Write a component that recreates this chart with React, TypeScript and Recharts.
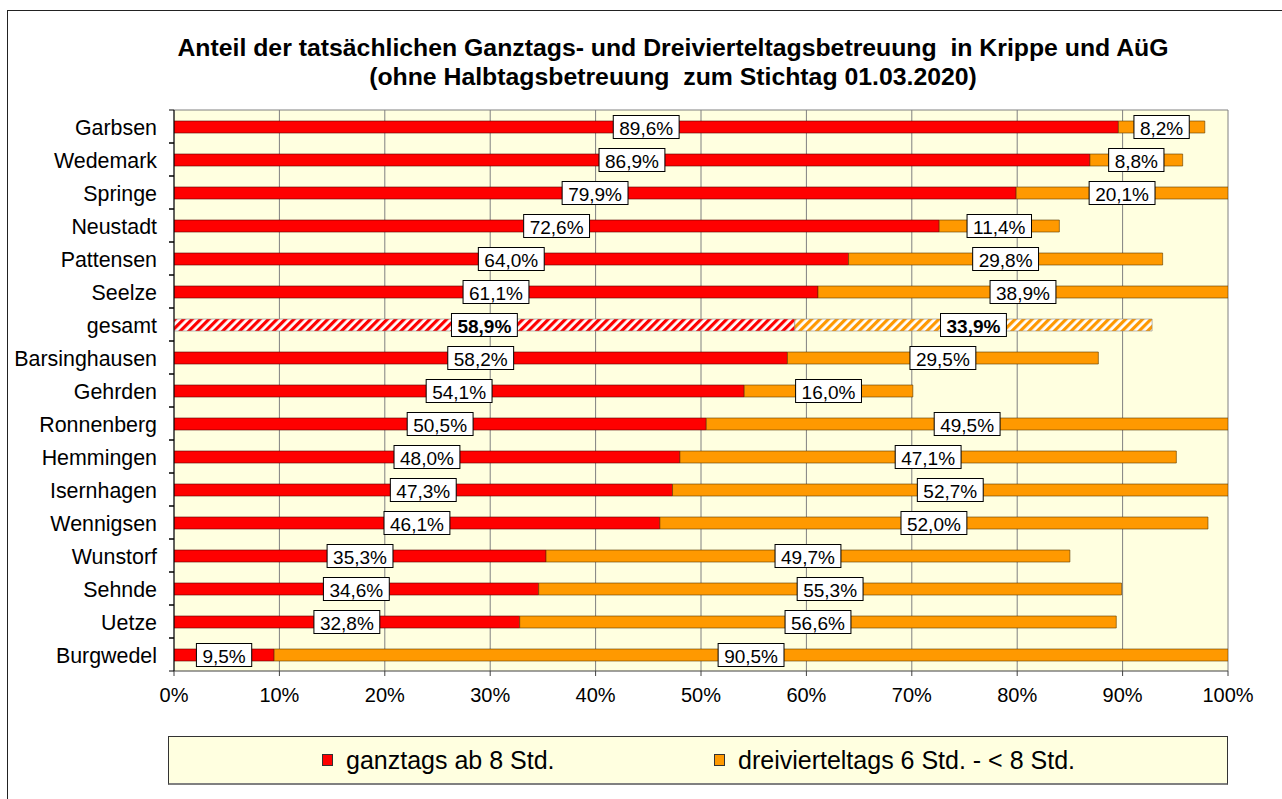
import React from 'react';
import { BarChart, Bar, XAxis, YAxis, CartesianGrid, LabelList, Cell } from 'recharts';

const categories = [
  'Garbsen', 'Wedemark', 'Springe', 'Neustadt', 'Pattensen', 'Seelze', 'gesamt',
  'Barsinghausen', 'Gehrden', 'Ronnenberg', 'Hemmingen', 'Isernhagen', 'Wennigsen',
  'Wunstorf', 'Sehnde', 'Uetze', 'Burgwedel',
];
const ganztags = [89.6, 86.9, 79.9, 72.6, 64.0, 61.1, 58.9, 58.2, 54.1, 50.5, 48.0, 47.3, 46.1, 35.3, 34.6, 32.8, 9.5];
const dreiviertel = [8.2, 8.8, 20.1, 11.4, 29.8, 38.9, 33.9, 29.5, 16.0, 49.5, 47.1, 52.7, 52.0, 49.7, 55.3, 56.6, 90.5];
const xTicks = [0, 10, 20, 30, 40, 50, 60, 70, 80, 90, 100];
const seriesNames = ['ganztags ab 8 Std.', 'dreivierteltags 6 Std. - < 8 Std.'];
const titleLines = [
  'Anteil der tatsächlichen Ganztags- und Dreivierteltagsbetreuung  in Krippe und AüG',
  '(ohne Halbtagsbetreuung  zum Stichtag 01.03.2020)',
];
const highlightCategory = 'gesamt';

const data = categories.map((name, i) => ({ name, ganztags: ganztags[i], dreiviertel: dreiviertel[i] }));

const FONT = '"Liberation Sans", Arial, Helvetica, sans-serif';
const RED = '#FF0000';
const ORANGE = '#FF9900';
const BG = '#FFFFE0';
const TICK_SIZE = 5;
const TICK_MARGIN = 12;

const fmt = (v: number) => v.toFixed(1).replace('.', ',') + '%';

let ctx: CanvasRenderingContext2D | null = null;
const measure = (text: string, size: number, bold: boolean) => {
  try {
    if (!ctx) ctx = document.createElement('canvas').getContext('2d');
    if (ctx) {
      ctx.font = `${bold ? 'bold ' : ''}${size}px ${FONT}`;
      return ctx.measureText(text).width;
    }
  } catch (e) {
    /* ignore */
  }
  return text.length * size * 0.55;
};

const makeLabel = (seriesKey: 'ganztags' | 'dreiviertel') => (props: any) => {
  const vb = props.viewBox && props.viewBox.width !== undefined ? props.viewBox : props;
  const x = Number(vb.x ?? props.x);
  const y = Number(vb.y ?? props.y);
  const w = Number(vb.width ?? props.width);
  const h = Number(vb.height ?? props.height);
  const idx = props.index;
  let value = props.value;
  if (Array.isArray(value)) value = value[1] - value[0];
  if (value === undefined && idx !== undefined) value = data[idx][seriesKey];
  const bold = idx !== undefined && categories[idx] === highlightCategory;
  const text = fmt(Number(value));
  const fs = 19;
  const tw = measure(text, fs, bold);
  const cx = x + w / 2;
  const cy = y + h / 2;
  const bw = tw + 12;
  const bh = 23;
  return (
    <g>
      <rect x={cx - bw / 2} y={cy - bh / 2} width={bw} height={bh} fill="#fff" stroke="#000" strokeWidth={1} />
      <text
        x={cx}
        y={cy + 1}
        textAnchor="middle"
        dominantBaseline="central"
        fontSize={fs}
        fontFamily={FONT}
        fontWeight={bold ? 'bold' : 'normal'}
        fill="#000"
      >
        {text}
      </text>
    </g>
  );
};

const YTick = (props: any) => {
  const { x, y, payload } = props;
  const axisX = x + TICK_SIZE + TICK_MARGIN;
  const off = payload && payload.offset ? payload.offset : 16.5;
  return (
    <g>
      <line x1={axisX - 5} x2={axisX} y1={y - off} y2={y - off} stroke="#000" strokeWidth={1} />
      <line x1={axisX - 5} x2={axisX} y1={y + off} y2={y + off} stroke="#000" strokeWidth={1} />
      <text x={x} y={y + 1} textAnchor="end" dominantBaseline="central" fontSize={21.4} fontFamily={FONT} fill="#000">
        {payload.value}
      </text>
    </g>
  );
};

export default function App() {
  return (
    <div style={{ position: 'absolute', left: 0, top: 0, width: 1282, height: 799, overflow: 'hidden', fontFamily: FONT, background: '#fff' }}>
      <svg width={0} height={0} style={{ position: 'absolute' }}>
        <defs>
          <pattern id="hatchRed" patternUnits="userSpaceOnUse" width={6} height={6} patternTransform="rotate(45)">
            <rect x={0} y={0} width={6} height={6} fill="#fff" />
            <rect x={0} y={0} width={3.2} height={6} fill={RED} />
          </pattern>
          <pattern id="hatchOrange" patternUnits="userSpaceOnUse" width={6} height={6} patternTransform="rotate(45)">
            <rect x={0} y={0} width={6} height={6} fill="#fff" />
            <rect x={0} y={0} width={3.2} height={6} fill={ORANGE} />
          </pattern>
        </defs>
      </svg>

      {/* outer frame */}
      <div style={{ position: 'absolute', left: 7, top: 10, width: 1300, height: 800, border: '1px solid #222', boxSizing: 'border-box' }} />

      <div style={{ position: 'absolute', left: 0, top: 0 }}>
        <BarChart
          width={1282}
          height={799}
          data={data}
          layout="vertical"
          margin={{ top: 110, right: 54, bottom: 98, left: 0 }}
          barSize={12}
          style={{ fontFamily: FONT }}
        >
          <CartesianGrid
            horizontal={true}
            vertical={true}
            stroke="#808080"
            strokeWidth={1}
            fill={BG}
            fillOpacity={1}
            horizontalCoordinatesGenerator={(p: any) => [p.offset.top]}
          />
          <XAxis
            type="number"
            domain={[0, 100]}
            ticks={xTicks}
            interval={0}
            tickFormatter={(v: number) => `${v}%`}
            axisLine={{ stroke: '#404040' }}
            tickLine={{ stroke: '#404040' }}
            tickSize={5}
            tickMargin={12}
            tick={{ fill: '#000', fontSize: 20, fontFamily: FONT }}
            height={30}
            allowDataOverflow
          />
          <YAxis
            type="category"
            dataKey="name"
            width={174}
            interval={0}
            axisLine={{ stroke: '#000' }}
            tickLine={false}
            tickSize={TICK_SIZE}
            tickMargin={TICK_MARGIN}
            tick={<YTick />}
          />
          <Bar dataKey="ganztags" name={seriesNames[0]} stackId="a" fill={RED} stroke="#5a0000" strokeWidth={0.6} isAnimationActive={false}>
            {categories.map((c) => (
              <Cell key={c} fill={c === highlightCategory ? 'url(#hatchRed)' : RED} stroke={c === highlightCategory ? '#888' : '#5a0000'} />
            ))}
            <LabelList dataKey="ganztags" content={makeLabel('ganztags')} />
          </Bar>
          <Bar dataKey="dreiviertel" name={seriesNames[1]} stackId="a" fill={ORANGE} stroke="#5a3a00" strokeWidth={0.6} isAnimationActive={false}>
            {categories.map((c) => (
              <Cell key={c} fill={c === highlightCategory ? 'url(#hatchOrange)' : ORANGE} stroke={c === highlightCategory ? '#888' : '#5a3a00'} />
            ))}
            <LabelList dataKey="dreiviertel" content={makeLabel('dreiviertel')} />
          </Bar>
        </BarChart>
      </div>

      {/* title */}
      {titleLines.map((t, i) => (
        <div
          key={i}
          style={{
            position: 'absolute',
            left: 0,
            width: 1346,
            top: 33 + i * 29,
            textAlign: 'center',
            whiteSpace: 'pre',
            fontWeight: 'bold',
            fontSize: 24.8,
            lineHeight: '29px',
            color: '#000',
            fontFamily: FONT,
          }}
        >
          {t}
        </div>
      ))}

      {/* legend */}
      <div
        style={{
          position: 'absolute',
          left: 168,
          top: 736,
          width: 1060,
          height: 49,
          boxSizing: 'border-box',
          background: BG,
          border: '1px solid #333',
          borderBottom: '2px solid #808080',
        }}
      />
      {[RED, ORANGE].map((color, i) => (
        <div
          key={i}
          style={{
            position: 'absolute',
            left: i === 0 ? 322 : 714,
            top: 745,
            height: 30,
            display: 'flex',
            alignItems: 'center',
            whiteSpace: 'pre',
          }}
        >
          <div style={{ width: 11, height: 12, background: color, border: '1px solid #333', boxSizing: 'border-box', marginRight: 13 }} />
          <span style={{ fontSize: 25, lineHeight: '30px', color: '#000', fontFamily: FONT }}>{seriesNames[i]}</span>
        </div>
      ))}
    </div>
  );
}
